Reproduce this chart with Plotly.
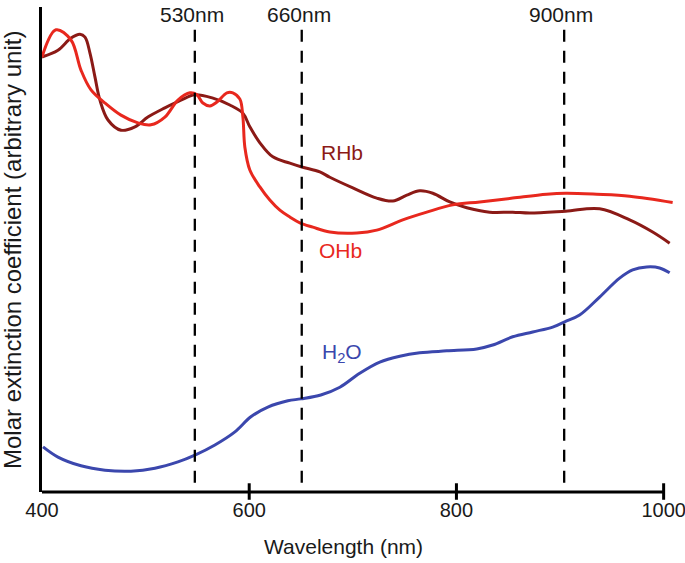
import plotly.graph_objects as go

# ---- data (wavelength in nm, molar extinction coefficient in arbitrary units) ----
ohb_x = [400, 413.5, 428.0, 437.6, 447.3, 460.8, 476.2, 492.6, 505.1, 518.6, 531.2, 542.8,
         549.5, 555.3, 562.1, 568.8, 578.5, 584.2, 591.0, 593.9, 595.8, 600.6, 610.3, 619.9,
         629.6, 639.2, 648.9, 661.4, 677.8, 703.9, 723.1, 748.2, 771.4, 796.5, 822.5, 854.3,
         887.1, 905.4, 935.4, 967.2, 1008.7]
ohb_y = [89.7, 95.3, 93.2, 87.0, 82.9, 80.2, 77.7, 76.1, 75.7, 77.3, 80.8, 82.3,
         81.9, 80.2, 79.6, 80.4, 82.3, 82.3, 81.0, 77.3, 71.1, 66.4, 62.9, 60.2,
         58.1, 56.7, 55.5, 54.6, 53.6, 53.4, 54.0, 56.1, 57.7, 59.2, 59.8, 60.6,
         61.4, 61.6, 61.4, 61.0, 59.7]

rhb_x = [400, 415.4, 428.0, 436.7, 441.5, 446.3, 451.1, 455.9, 463.7, 476.2, 489.7, 502.2,
         518.6, 534.1, 547.6, 565.0, 581.3, 593.9, 600.6, 610.3, 622.8, 639.2, 650.8, 668.2,
         677.8, 700.0, 723.1, 738.6, 752.1, 764.6, 777.2, 793.6, 810.0, 832.1, 854.3, 870.7,
         905.4, 938.2, 967.2, 989.4, 1005.8]
rhb_y = [89.7, 91.1, 93.6, 94.4, 93.8, 90.5, 85.6, 80.8, 76.7, 74.6, 75.3, 77.3,
         79.2, 80.8, 81.9, 81.2, 79.8, 78.1, 75.3, 72.0, 69.1, 67.8, 67.0, 66.0,
         64.9, 62.7, 60.6, 60.0, 61.2, 62.1, 61.6, 59.8, 58.6, 57.7, 57.7, 57.5,
         57.9, 58.4, 56.1, 53.6, 51.3]

h2o_x = [401, 415.4, 437.6, 460.8, 485.8, 509.0, 531.2, 547.6, 566.9, 586.2, 601.6, 618.0,
         637.3, 649.8, 669.1, 687.5, 706.7, 726.0, 745.3, 764.6, 790.7, 819.6, 835.0, 854.3,
         873.6, 892.9, 904.5, 918.9, 938.2, 957.5, 970.1, 983.6, 996.1, 1005.8]
h2o_y = [9.3, 7.2, 5.4, 4.5, 4.3, 4.9, 6.2, 7.6, 9.7, 12.4, 15.5, 17.5,
         18.8, 19.2, 20.0, 21.6, 24.5, 26.8, 28.0, 28.7, 29.1, 29.5, 30.3, 32.0,
         33.0, 34.0, 35.1, 36.5, 40.2, 44.1, 45.8, 46.4, 46.2, 45.2]

marker_x = [547.5, 650.7, 904.0]
marker_labels = ["530nm", "660nm", "900nm"]

tick_vals = [400, 600, 800, 1000]
tick_text = ["400", "600", "800", "1000"]

series_names = ["OHb", "RHb", "H<sub>2</sub>O"]
series_label_x = [688.4, 689.4, 689.4]
series_label_y = [49.7, 69.9, 28.7]

x_title = "Wavelength (nm)"
y_title = "Molar extinction coefficient (arbitrary unit)"

# ---- styles ----
C_OHB = "#E8281E"
C_RHB = "#8B1A16"
C_H2O = "#3B47AD"
TXT = "#1a1a1a"
FONT = "Liberation Sans, Arial, sans-serif"

fig = go.Figure()
for xs, ys, col in [(h2o_x, h2o_y, C_H2O), (rhb_x, rhb_y, C_RHB), (ohb_x, ohb_y, C_OHB)]:
    fig.add_trace(go.Scatter(x=xs, y=ys, mode="lines",
                             line=dict(color=col, width=3, shape="spline", smoothing=1.0),
                             showlegend=False, hoverinfo="skip"))

shapes = []
for mx in marker_x:
    shapes.append(dict(type="line", xref="x", yref="y", x0=mx, x1=mx, y0=1.9, y1=95.7,
                       line=dict(color="black", width=2.3, dash="12px,9px")))
# x axis line (ends at 1000)
shapes.append(dict(type="line", xref="x", yref="paper", x0=400, x1=tick_vals[-1], y0=0, y1=0,
                   line=dict(color="black", width=3)))
for tv in tick_vals[1:]:
    shapes.append(dict(type="line", xref="x", yref="paper", x0=tv, x1=tv, y0=-0.016, y1=0.018,
                       line=dict(color="black", width=3)))

annotations = []
for mx, lab in zip(marker_x, marker_labels):
    annotations.append(dict(x=mx - 3, y=98.4, xref="x", yref="y", text=lab, showarrow=False,
                            font=dict(family=FONT, size=21, color=TXT),
                            xanchor="center", yanchor="middle"))
for name, lx, ly, col in zip(series_names, series_label_x, series_label_y, [C_OHB, C_RHB, C_H2O]):
    annotations.append(dict(x=lx, y=ly, xref="x", yref="y", text=name, showarrow=False,
                            font=dict(family=FONT, size=21, color=col),
                            xanchor="center", yanchor="middle"))
annotations.append(dict(x=0.4775, y=-0.1134, xref="paper", yref="paper", text=x_title,
                        showarrow=False, font=dict(family=FONT, size=21, color=TXT),
                        xanchor="center", yanchor="middle"))
annotations.append(dict(x=0, y=0.499, xref="paper", yref="paper", text=y_title, xshift=-29,
                        textangle=-90, showarrow=False, font=dict(family=FONT, size=24, color=TXT),
                        xanchor="center", yanchor="middle"))

fig.update_layout(
    width=685, height=563,
    margin=dict(l=42, r=11, t=7, b=71, autoexpand=False),
    paper_bgcolor="white", plot_bgcolor="white",
    shapes=shapes, annotations=annotations,
    font=dict(family=FONT, color=TXT),
    xaxis=dict(range=[400, 1010], tickvals=tick_vals, ticktext=tick_text, ticks="",
               showgrid=False, zeroline=False, showline=False, automargin=False,
               ticklabeloverflow="allow",
               tickfont=dict(family=FONT, size=20, color=TXT), ticklabelstandoff=4),
    yaxis=dict(range=[0, 100], showticklabels=False, ticks="", showgrid=False, zeroline=False,
               showline=True, linecolor="black", linewidth=3, automargin=False),
)

fig.write_html("out.html", config={"displayModeBar": False},
               post_script="document.body.style.margin='0';document.body.style.overflow='hidden';")
